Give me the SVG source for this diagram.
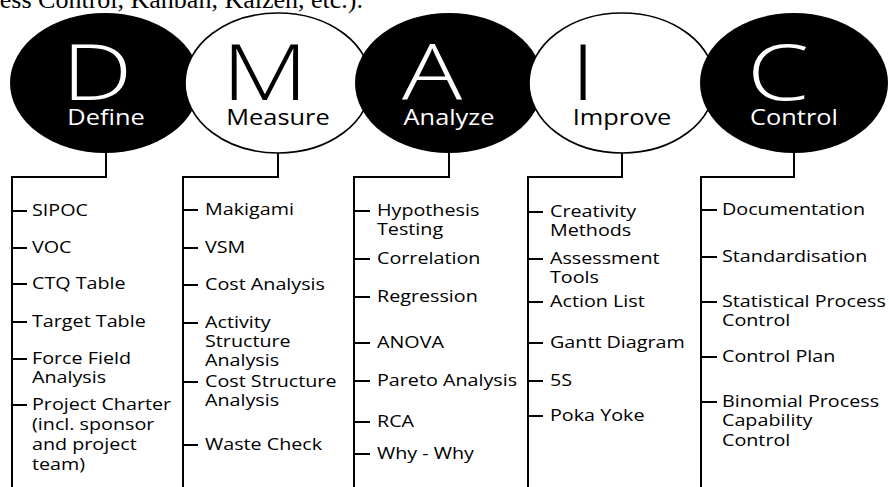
<svg xmlns="http://www.w3.org/2000/svg" width="889" height="487" viewBox="0 0 889 487">
<style>
.bg{fill:#fff}
.dark{fill:#000}
.light{fill:#fff;stroke:#000;stroke-width:1.6}
.ln{fill:none;stroke:#000;stroke-width:2}
.big{font-family:"Open Sans","Noto Sans",sans-serif;font-weight:300;font-size:77px;text-anchor:middle}
.lbl{font-family:"Open Sans","Noto Sans",sans-serif;font-size:21.5px;text-anchor:middle}
.w{fill:#fff}
.k{fill:#000}
.item{font-family:"Open Sans","Noto Sans",sans-serif;font-size:17px;fill:#000}
.top{font-family:"Liberation Serif","Times New Roman",serif;font-size:26px;fill:#000;text-anchor:end}
</style>
<rect class="bg" x="0" y="0" width="889" height="487"/>
<text class="top" x="363" y="8">ess Control, Kanban, Kaizen, etc.).</text>
<g id="connectors">
<path class="ln" d="M106 150V177H12V487M278 150V177H183V487M449 150V177H354V487M622 150V177H528V487M794 150V177H701V487"/>
<path class="ln" d="M12 211H27M12 248H27M12 284H27M12 322H27M12 359H27M12 405H27"/>
<path class="ln" d="M183 210H198M183 248H198M183 285H198M183 323H198M183 382H198M183 445H198"/>
<path class="ln" d="M354 211H370M354 259H370M354 297H370M354 343H370M354 381H370M354 422H370M354 454H370"/>
<path class="ln" d="M528 212H543M528 259H543M528 302H543M528 343H543M528 381H543M528 416H543"/>
<path class="ln" d="M701 210H717M701 257H717M701 302H717M701 357H717M701 402H717"/>
</g>
<g id="define">
<ellipse class="dark" cx="105" cy="83" rx="95" ry="70"/>
<text class="big w" transform="matrix(1.3 0 0 1 97 100)">D</text>
<text class="lbl w" transform="matrix(1.18 0 0 1 106 125)">Define</text>
</g>
<g id="measure">
<ellipse class="light" cx="278" cy="83" rx="93" ry="70"/>
<text class="big k" transform="matrix(1.3 0 0 1 265 100)">M</text>
<text class="lbl k" transform="matrix(1.18 0 0 1 278 125)">Measure</text>
</g>
<g id="analyze">
<ellipse class="dark" cx="449" cy="83" rx="94" ry="70"/>
<text class="big w" transform="matrix(1.3 0 0 1 432 100)">A</text>
<text class="lbl w" transform="matrix(1.18 0 0 1 449 125)">Analyze</text>
</g>
<g id="improve">
<ellipse class="light" cx="622" cy="83" rx="93" ry="70"/>
<text class="big k" transform="matrix(1.3 0 0 1 583 100)">I</text>
<text class="lbl k" transform="matrix(1.18 0 0 1 622 125)">Improve</text>
</g>
<g id="control">
<ellipse class="dark" cx="794" cy="83" rx="94" ry="70"/>
<text class="big w" transform="matrix(1.3 0 0 1 778 100)">C</text>
<text class="lbl w" transform="matrix(1.18 0 0 1 794 125)">Control</text>
</g>
<g id="define-items">
<text class="item" transform="matrix(1.16 0 0 1 32 216)">SIPOC</text>
<text class="item" transform="matrix(1.16 0 0 1 32 253)">VOC</text>
<text class="item" transform="matrix(1.16 0 0 1 32 289)">CTQ Table</text>
<text class="item" transform="matrix(1.16 0 0 1 32 327)">Target Table</text>
<text class="item" transform="matrix(1.16 0 0 1 32 364)">Force Field<tspan x="0" dy="19.5">Analysis</tspan></text>
<text class="item" transform="matrix(1.16 0 0 1 32 410)">Project Charter<tspan x="0" dy="20">(incl. sponsor</tspan><tspan x="0" dy="20">and project</tspan><tspan x="0" dy="20">team)</tspan></text>
</g>
<g id="measure-items">
<text class="item" transform="matrix(1.16 0 0 1 205 215)">Makigami</text>
<text class="item" transform="matrix(1.16 0 0 1 205 253)">VSM</text>
<text class="item" transform="matrix(1.16 0 0 1 205 290)">Cost Analysis</text>
<text class="item" transform="matrix(1.16 0 0 1 205 328)">Activity<tspan x="0" dy="19">Structure</tspan><tspan x="0" dy="19">Analysis</tspan></text>
<text class="item" transform="matrix(1.16 0 0 1 205 387)">Cost Structure<tspan x="0" dy="19.5">Analysis</tspan></text>
<text class="item" transform="matrix(1.16 0 0 1 205 450)">Waste Check</text>
</g>
<g id="analyze-items">
<text class="item" transform="matrix(1.16 0 0 1 377 216)">Hypothesis<tspan x="0" dy="19">Testing</tspan></text>
<text class="item" transform="matrix(1.16 0 0 1 377 264)">Correlation</text>
<text class="item" transform="matrix(1.16 0 0 1 377 302)">Regression</text>
<text class="item" transform="matrix(1.16 0 0 1 377 348)">ANOVA</text>
<text class="item" transform="matrix(1.16 0 0 1 377 386)">Pareto Analysis</text>
<text class="item" transform="matrix(1.16 0 0 1 377 427)">RCA</text>
<text class="item" transform="matrix(1.16 0 0 1 377 459)">Why - Why</text>
</g>
<g id="improve-items">
<text class="item" transform="matrix(1.16 0 0 1 550 217)">Creativity<tspan x="0" dy="19">Methods</tspan></text>
<text class="item" transform="matrix(1.16 0 0 1 550 264)">Assessment<tspan x="0" dy="19">Tools</tspan></text>
<text class="item" transform="matrix(1.16 0 0 1 550 307)">Action List</text>
<text class="item" transform="matrix(1.16 0 0 1 550 348)">Gantt Diagram</text>
<text class="item" transform="matrix(1.16 0 0 1 550 386)">5S</text>
<text class="item" transform="matrix(1.16 0 0 1 550 421)">Poka Yoke</text>
</g>
<g id="control-items">
<text class="item" transform="matrix(1.16 0 0 1 722 215)">Documentation</text>
<text class="item" transform="matrix(1.16 0 0 1 722 262)">Standardisation</text>
<text class="item" transform="matrix(1.16 0 0 1 722 307)">Statistical Process<tspan x="0" dy="19.5">Control</tspan></text>
<text class="item" transform="matrix(1.16 0 0 1 722 362)">Control Plan</text>
<text class="item" transform="matrix(1.16 0 0 1 722 407)">Binomial Process<tspan x="0" dy="19.5">Capability</tspan><tspan x="0" dy="19.5">Control</tspan></text>
</g>
</svg>
